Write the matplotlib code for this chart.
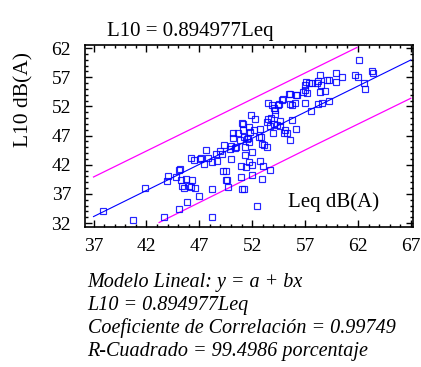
import numpy as np
import matplotlib
matplotlib.use("Agg")
import matplotlib.pyplot as plt
from matplotlib.ticker import MultipleLocator

# datos
leq = [37.9, 40.7, 41.9, 43.7, 43.9, 44.0, 44.8, 45.1, 45.2, 45.3, 45.7, 45.4, 45.6, 46.0,
       46.2, 46.3, 46.6, 45.1, 45.8, 46.2, 46.5, 47.0, 47.2, 47.4, 47.6, 47.8, 48.2, 48.2,
       48.2, 48.6, 48.7, 49.0, 49.3, 49.2, 49.5, 49.5, 49.6, 49.7, 49.9, 50.0, 50.2, 50.4,
       50.2, 50.7, 50.8, 50.9, 50.9, 51.0, 51.2, 51.1, 51.1, 51.2, 51.3, 51.3, 51.4, 51.5,
       51.6, 51.7, 51.7, 51.9, 52.0, 52.0, 52.0, 52.2, 52.5, 52.6, 52.7, 52.7, 52.8, 52.9,
       52.9, 53.0, 53.4, 53.5, 53.7, 53.7, 53.8, 54.0, 54.1, 54.1, 54.2, 54.2, 54.3, 54.4,
       54.6, 54.8, 55.0, 55.1, 55.3, 55.5, 55.6, 55.6, 55.8, 55.6, 55.8, 56.0, 56.1, 56.2,
       56.8, 57.0, 57.0, 57.2, 57.1, 57.4, 57.6, 57.7, 58.1, 58.2, 58.2, 58.4, 58.4, 58.6,
       58.9, 59.1, 59.3, 59.3, 59.9, 59.9, 60.5, 61.7, 62.0, 62.1, 62.6, 62.7, 63.3, 63.4,
       47.1, 49.1, 50.0, 50.5, 51.7, 53.1, 52.3, 51.0, 51.8, 53.5, 53.9, 54.5, 54.9, 56.1,
       53.4, 54.6, 58.5, 57.0]
l10 = [34.0, 32.45, 38.0, 33.0, 39.2, 40.0, 39.9, 41.1, 41.3, 39.4, 39.5, 38.3, 38.0, 38.3,
       38.2, 39.3, 38.0, 34.4, 35.6, 43.1, 42.8, 36.7, 43.2, 42.1, 44.5, 43.2, 37.8, 33.0,
       42.4, 43.9, 42.7, 44.4, 45.4, 40.9, 40.9, 39.4, 39.4, 38.2, 44.7, 43.0, 46.6, 44.8,
       47.4, 47.4, 46.3, 39.9, 41.7, 37.9, 37.9, 47.9, 48.9, 46.7, 45.1, 43.7, 41.6, 46.4,
       46.5, 48.4, 45.9, 50.5, 41.9, 40.3, 44.1, 47.9, 35.0, 46.7, 48.1, 42.7, 46.7, 45.5,
       39.5, 41.7, 45.0, 49.9, 41.1, 48.7, 50.0, 47.4, 48.9, 51.8, 51.4, 50.7, 48.8, 52.3,
       49.5, 53.1, 47.4, 47.9, 47.5, 54.1, 54.1, 52.4, 52.2, 46.3, 49.6, 52.6, 48.2, 54.0,
       54.4, 52.5, 54.8, 54.3, 56.1, 56.0, 51.2, 56.0, 56.0, 52.4, 56.3, 57.4, 54.4, 52.6,
       54.6, 56.5, 56.5, 53.0, 56.1, 57.7, 57.1, 57.3, 57.1, 60.0, 56.0, 54.9, 58.0, 57.8,
       43.0, 43.8, 45.2, 45.0, 42.5, 45.3, 49.9, 49.2, 47.6, 52.5, 52.2, 52.4, 53.2, 53.9,
       49.3, 48.6, 55.6, 55.6]

slope = 0.894977
fit_x = [37, 67]
upper_x = [37, 47.9, 61.9]
upper_y = [39.9, 49.6, 62.1]
lower_x = [43.2, 57.75, 67]
lower_y = [32.1, 45.2, 53.4]

plt.rcParams["font.family"] = "Liberation Serif"

fig = plt.figure(figsize=(4.21, 3.67), dpi=100)
ax = fig.add_axes([0.202, 0.381, 0.779, 0.496])

ax.plot(upper_x, upper_y, color="#ff00ff", lw=0.9)
ax.plot(lower_x, lower_y, color="#ff00ff", lw=0.9)
ax.plot(fit_x, [slope * v for v in fit_x], color="#0000ff", lw=0.8)
ax.plot(leq, l10, "s", ms=4.5, mfc="none", mec="#0000ff", mew=0.85, alpha=0.85)

ax.set_xlim(36.2, 67.2)
ax.set_ylim(31.3, 62.5)
ax.xaxis.set_minor_locator(MultipleLocator(1))
ax.yaxis.set_minor_locator(MultipleLocator(1))
ax.set_xticks(range(37, 68, 5))
ax.set_yticks(range(32, 63, 5))
ax.tick_params(which="both", direction="in", top=True, right=True, labelsize=14, width=1)
ax.tick_params(which="major", length=5)
ax.tick_params(axis="y", which="major", pad=10)
ax.tick_params(axis="x", which="major", pad=8)
ax.tick_params(which="minor", length=2.5)
for s in ax.spines.values():
    s.set_linewidth(1.2)

ax.text(0.62, 0.11, "Leq dB(A)", transform=ax.transAxes, fontsize=15)
fig.text(0.255, 0.913, "L10 = 0.894977Leq", fontsize=15, va="center")
fig.text(0.057, 0.73, "L10 dB(A)", fontsize=15.5, rotation=90, ha="center", va="center")

lines = ["Modelo Lineal: y = a + bx",
         "L10 = 0.894977Leq",
         "Coeficiente de Correlación = 0.99749",
         "R-Cuadrado = 99.4986 porcentaje"]
for i, t in enumerate(lines):
    fig.text(0.208, 1 - (283 + 22.7 * i) / 367, t, fontsize=14.5, style="italic", va="center")

fig.savefig("out.png", dpi=100)
